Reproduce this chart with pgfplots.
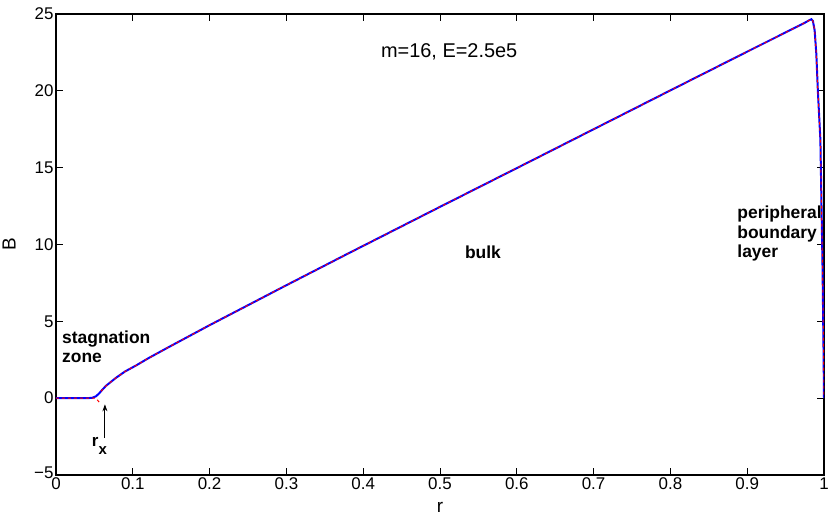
\documentclass[border=0pt]{standalone}
\usepackage{fontspec}
\setmainfont{Liberation Sans}
\usepackage{pgfplots}
\pgfplotsset{compat=1.18}
\usetikzlibrary{calc,arrows.meta}
\begin{document}
\begin{tikzpicture}
\begin{axis}[
 scale only axis, width=768bp, height=461bp,
 xmin=0, xmax=1, ymin=-5, ymax=25,
 xtick={0,0.1,0.2,0.3,0.4,0.5,0.6,0.7,0.8,0.9,1},
 xticklabels={0,0.1,0.2,0.3,0.4,0.5,0.6,0.7,0.8,0.9,1},
 ytick={-5,0,5,10,15,20,25},
 yticklabels={\raisebox{5bp}{−5},0,5,10,15,20,25},
 tick align=inside, major tick length=7bp,
 tick style={black, line width=0.8bp},
 axis line style={line width=1.2bp},
 ticklabel style={font=\fontsize{17}{19}\selectfont},
 yticklabel style={xshift=1bp},
 xticklabel style={yshift=1bp},
 xlabel={r}, ylabel={B},
 label style={font=\fontsize{19}{21}\selectfont},
 xlabel style={at={(axis description cs:0.5,0)}, anchor=center, yshift=-32bp},
 ylabel style={at={(axis description cs:0,0.5)}, anchor=center, yshift=47bp},
 unbounded coords=jump,
 clip=true,
]
\addplot[blue, line width=2bp] coordinates {
(0,0) (0.04,0) (0.047,0.02) (0.052,0.12) (0.056,0.3) (0.06,0.53) (0.065,0.8) (0.07,1.0)
(0.078,1.32) (0.09,1.74) (0.104,2.12) (0.121,2.62) (0.147,3.33) (0.2,4.75) (0.3,7.35)
(0.381,9.43) (0.5,12.45) (0.6,14.97) (0.7,17.5) (0.8,20.03) (0.9,22.55) (0.95,23.8)
(0.975,24.43) (0.981,24.6) (0.9835,24.66) (0.9855,24.55) (0.9878,23.95) (0.990,22.4)
(0.992,20.0) (0.9953,16.8) (0.998,8.8) (0.9992,4.0) (1.0,0)
};
\addplot[red, line width=1bp, dash pattern=on 3bp off 3bp] coordinates {
(0,0) (0.04,0) (0.052,0.0) (0.0585,-0.4) (0.0585,nan)
(0.0585,0.45) (0.06,0.53) (0.065,0.8) (0.07,1.0)
(0.078,1.32) (0.09,1.74) (0.104,2.12) (0.121,2.62) (0.147,3.33) (0.2,4.75) (0.3,7.35)
(0.381,9.43) (0.5,12.45) (0.6,14.97) (0.7,17.5) (0.8,20.03) (0.9,22.55) (0.95,23.8)
(0.975,24.43) (0.981,24.6) (0.9835,24.66) (0.9855,24.55) (0.9878,23.95) (0.990,22.4)
(0.992,20.0) (0.9953,16.8) (0.998,8.8) (0.9992,4.0) (1.0,0)
};
\node[font=\fontsize{20}{22}\selectfont] at (axis cs:0.512,22.54) {m=16, E=2.5e5};
\node[font=\bfseries\fontsize{17.5}{19.5}\selectfont] at (axis cs:0.556,9.5) {bulk};
\node[font=\bfseries\fontsize{17.5}{19.5}\selectfont, anchor=north west, align=left, inner sep=0pt] at (axis cs:0.0078,4.4) {stagnation\\zone};
\node[font=\bfseries\fontsize{17.5}{19.5}\selectfont, anchor=north west, align=left, inner sep=0pt] at (axis cs:0.887,12.5) {peripheral\\boundary\\layer};
\node[font=\bfseries\fontsize{17}{19}\selectfont, anchor=base west, inner sep=0pt] at (axis cs:0.0465,-3.12) {r\raisebox{-8bp}{\fontsize{15}{17}\selectfont x}};
\draw[-{Stealth[length=7bp,width=5bp]}, line width=1bp] (axis cs:0.0637,-2.6) -- (axis cs:0.0637,-0.4);
\coordinate (SW) at (rel axis cs:0,0);
\coordinate (NE) at (rel axis cs:1,1);
\end{axis}
\pgfresetboundingbox
\path[use as bounding box] ($(SW)+(-56bp,-41bp)$) rectangle ($(NE)+(5bp,14bp)$);
\end{tikzpicture}
\end{document}
